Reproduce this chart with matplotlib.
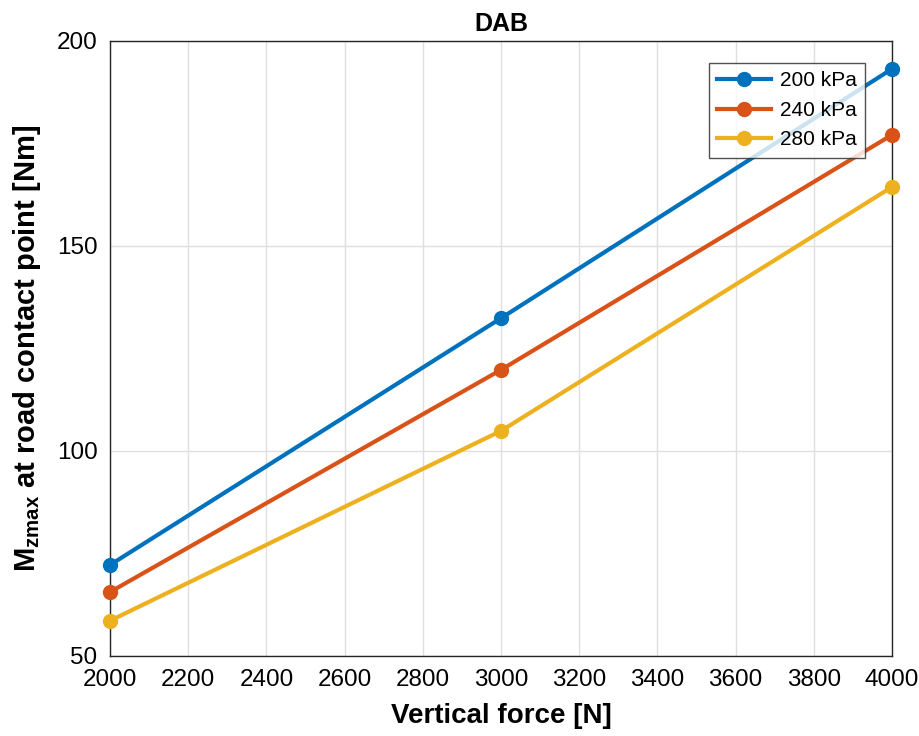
import matplotlib
matplotlib.use("Agg")
import matplotlib.pyplot as plt

plt.rcParams['font.family'] = ['Liberation Sans', 'DejaVu Sans']
plt.rcParams['mathtext.fontset'] = 'custom'
plt.rcParams['mathtext.rm'] = 'Liberation Sans'
plt.rcParams['mathtext.bf'] = 'Liberation Sans:bold'

# data
force = [2000, 3000, 4000]
mz_200 = [72.2, 132.4, 193.2]
mz_240 = [65.6, 119.8, 177.1]
mz_280 = [58.6, 104.9, 164.4]
labels = ['200 kPa', '240 kPa', '280 kPa']
colors = ['#0072BD', '#D95319', '#EDB120']

fig = plt.figure(figsize=(9.2, 7.36), dpi=100)
ax = fig.add_axes([110 / 920, 1 - 656 / 736, (892 - 110) / 920, (656 - 41) / 736])

for y, lab, c in zip([mz_200, mz_240, mz_280], labels, colors):
    ax.plot(force, y, '-o', color=c, linewidth=3, markersize=10, label=lab, clip_on=False, zorder=3)

ax.set_xlim(2000, 4000)
ax.set_ylim(50, 200)
ax.set_xticks(range(2000, 4001, 200))
ax.set_yticks([50, 100, 150, 200])
ax.tick_params(direction='in', labelsize=17.5, length=0, pad=9)
ax.grid(True, color='#dfdfdf', linewidth=1)
ax.set_axisbelow(True)
for s in ax.spines.values():
    s.set_linewidth(1)
    s.set_color('#262626')

ax.set_title('DAB', fontsize=18, fontweight='bold', pad=7)
ax.set_xlabel('Vertical force [N]', fontsize=20, fontweight='bold', labelpad=9)
ax.set_ylabel(r'$\mathbf{M}_{\mathbf{zmax}}$ at road contact point [Nm]', fontsize=21, fontweight='bold', labelpad=10)

leg = ax.legend(loc='upper right', bbox_to_anchor=(0.9655, 0.964), borderaxespad=0, fontsize=15, frameon=True,
                fancybox=False, edgecolor='#262626', handlelength=2.6, borderpad=0.4, labelspacing=0.5,
                handletextpad=0.4)
leg.get_frame().set_linewidth(1)

fig.savefig('out.png', dpi=100)
